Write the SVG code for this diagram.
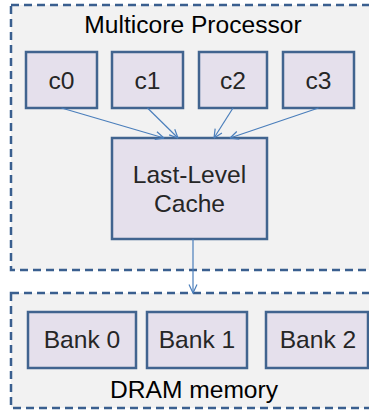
<svg xmlns="http://www.w3.org/2000/svg" width="369" height="410" viewBox="0 0 369 410">
<defs>
<style>
.cont{fill:#f2f2f2;stroke:#3a5f8f;stroke-width:2.5;stroke-dasharray:8 5}
.box{fill:#e5e0ec;stroke:#41648f;stroke-width:2.5}
.t{font-family:"Liberation Sans",Arial,sans-serif;font-size:24.6px;fill:#262626;text-anchor:middle}
.tb{fill:#000}
.conn{stroke:#4a7ebb;stroke-width:1.2;fill:none;marker-end:url(#ah)}
</style>
<marker id="ah" viewBox="0 0 10 10" refX="9.5" refY="5" markerWidth="10" markerHeight="10" markerUnits="userSpaceOnUse" orient="auto">
<path d="M1,1 L9.5,5 L1,9" fill="none" stroke="#4a7ebb" stroke-width="1.2"/>
</marker>
</defs>
<rect width="369" height="410" fill="#ffffff"/>
<g id="multicore">
<rect class="cont" x="11" y="5" width="370" height="265"/>
<text class="t tb" x="193" y="33">Multicore Processor</text>
</g>
<g id="dram">
<rect class="cont" x="11" y="293" width="370" height="115"/>
<text class="t tb" x="194" y="398">DRAM memory</text>
</g>
<g id="c0"><rect class="box" x="26" y="52" width="71" height="56"/><text class="t" x="61.5" y="89">c0</text></g>
<g id="c1"><rect class="box" x="112" y="52" width="71" height="56"/><text class="t" x="147.5" y="89">c1</text></g>
<g id="c2"><rect class="box" x="199" y="52" width="68" height="56"/><text class="t" x="233" y="89">c2</text></g>
<g id="c3"><rect class="box" x="283" y="52" width="71" height="56"/><text class="t" x="318.5" y="89">c3</text></g>
<g id="llc"><rect class="box" x="112" y="138" width="155" height="101"/><text class="t" x="189.5" y="183">Last-Level</text><text class="t" x="189.5" y="212">Cache</text></g>
<g id="bank0"><rect class="box" x="28" y="312" width="108" height="56"/><text class="t" x="82" y="348">Bank 0</text></g>
<g id="bank1"><rect class="box" x="147" y="312" width="100" height="56"/><text class="t" x="197" y="348">Bank 1</text></g>
<g id="bank2"><rect class="box" x="266" y="312" width="102" height="56"/><text class="t" x="318" y="348">Bank 2</text></g>
<g id="connectors">
<line class="conn" x1="61.5" y1="108" x2="164" y2="138"/>
<line class="conn" x1="147.5" y1="108" x2="178" y2="138"/>
<line class="conn" x1="233" y1="108" x2="214" y2="138"/>
<line class="conn" x1="318.5" y1="108" x2="230" y2="138"/>
<line class="conn" x1="193" y1="239" x2="193" y2="293"/>
</g>
</svg>
